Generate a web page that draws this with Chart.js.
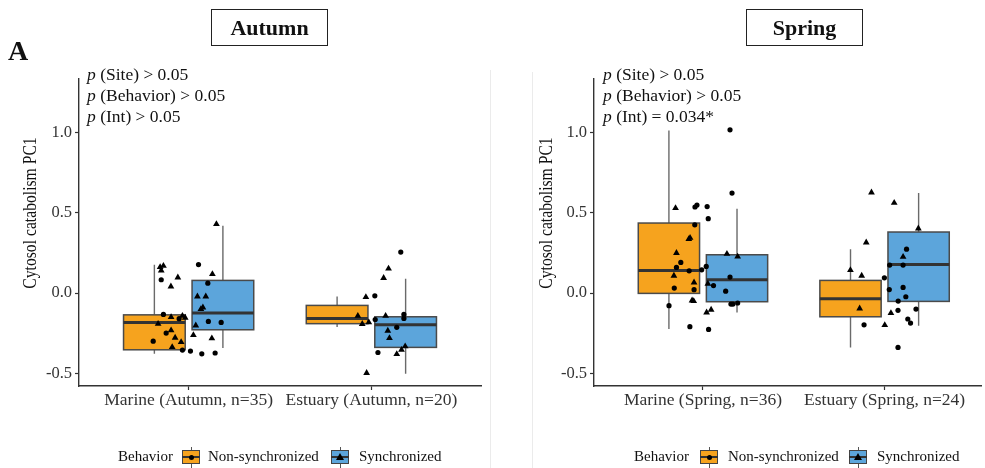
<!DOCTYPE html>
<html><head><meta charset="utf-8">
<script src="https://cdn.jsdelivr.net/npm/chart.js@4.4.0/dist/chart.umd.min.js"></script>
<style>
html,body{margin:0;padding:0;background:#fff;}
body{width:985px;height:468px;overflow:hidden;position:relative;font-family:"Liberation Serif","Times New Roman",serif;color:#111;}
canvas{position:absolute;top:0;}
.t{position:absolute;white-space:nowrap;line-height:1;}
.strip{position:absolute;top:9px;width:115px;height:35px;border:1.2px solid #222;display:flex;align-items:center;justify-content:center;font-weight:bold;font-size:22px;box-sizing:content-box;}
.ytitle{position:absolute;width:200px;height:18px;line-height:18px;font-size:18px;text-align:center;transform:rotate(-90deg) scaleX(0.87);color:#111;}
.sep{position:absolute;width:1px;background:#ebebeb;}
.key{position:absolute;width:18px;height:21px;}
.key .wh{position:absolute;left:8.5px;width:1px;top:0;height:21px;background:#555;}
.key .bx{position:absolute;left:0;top:3px;width:16px;height:12px;border:1px solid #444;}
.key .md{position:absolute;left:0;top:9px;width:18px;height:2px;background:#333;}
.key .dot{position:absolute;left:6.5px;top:7.5px;width:5px;height:5px;border-radius:50%;background:#000;}
.key .tri{position:absolute;left:5px;top:5.5px;width:0;height:0;border-left:4px solid transparent;border-right:4px solid transparent;border-bottom:7px solid #000;}
.leg{font-size:15px;}
</style>
</head>
<body>
<div class="sep" style="left:490px;top:70px;height:398px;"></div>
<div class="sep" style="left:532px;top:72px;height:396px;"></div>
<canvas id="cA" width="490" height="468" style="left:0;"></canvas>
<canvas id="cS" width="495" height="468" style="left:490px;"></canvas>

<div class="t" style="left:8px;top:37px;font-size:28px;font-weight:bold;">A</div>
<div class="strip" style="left:211px;">Autumn</div>
<div class="strip" style="left:746px;">Spring</div>

<div class="ytitle" style="left:-70px;top:204px;">Cytosol catabolism PC1</div>
<div class="ytitle" style="left:446px;top:204px;">Cytosol catabolism PC1</div>

<div id="pA"></div>
<div id="pS"></div>
<div id="legA"></div>
<div id="legS"></div>

<script>
// ---------- DATA ----------
const categoriesAutumn = ["Marine (Autumn, n=35)", "Estuary (Autumn, n=20)"];
const categoriesSpring = ["Marine (Spring, n=36)", "Estuary (Spring, n=24)"];
const behaviors = ["Non-synchronized", "Synchronized"];
const yTicks = [-0.5, 0.0, 0.5, 1.0];

const pTextAutumn = ["(Site) > 0.05", "(Behavior) > 0.05", "(Int) > 0.05"];
const pTextSpring = ["(Site) > 0.05", "(Behavior) > 0.05", "(Int) = 0.034*"];

// box stats per category: [lower whisker, Q1, median, Q3, upper whisker]
const autumnNonSyncBox = [[-0.379, -0.354, -0.183, -0.136, 0.177], [-0.212, -0.191, -0.158, -0.077, -0.021]];
const autumnSyncBox    = [[-0.343, -0.229, -0.125, 0.079, 0.420], [-0.503, -0.339, -0.198, -0.148, 0.089]];
const springNonSyncBox = [[-0.225, -0.002, 0.141, 0.437, 1.014], [-0.339, -0.148, -0.036, 0.079, 0.274]];
const springSyncBox    = [[-0.121, -0.054, 0.083, 0.239, 0.526], [-0.204, -0.052, 0.178, 0.381, 0.624]];

// jittered observations (x in category units, 1 = Marine, 2 = Estuary)
const autumnNonSyncX = [0.850,1.054,1.105,0.862,0.948,1.108,1.178,0.877,0.806,0.966,1.010,1.072,1.145, 2.161,2.019,2.178,2.178,2.021,2.139,2.036];
const autumnNonSyncY = [0.083,0.178,0.062,-0.133,-0.160,-0.177,-0.183,-0.250,-0.300,-0.356,-0.362,-0.379,-0.374, 0.256,-0.017,-0.133,-0.158,-0.165,-0.214,-0.371];
const autumnSyncX = [0.844,0.862,0.850,0.941,0.903,1.130,1.048,1.094,1.078,1.067,0.904,0.966,0.981,0.833,1.039,0.904,0.926,1.026,1.127,0.959,0.910,1.152, 2.094,2.067,1.970,1.926,2.078,1.950,1.986,2.090,2.099,2.185,2.165,2.139,1.974];
const autumnSyncY = [0.162,0.170,0.141,0.097,0.041,0.118,-0.021,-0.021,-0.090,-0.100,-0.150,-0.142,-0.154,-0.192,-0.202,-0.233,-0.279,-0.262,-0.283,-0.306,-0.337,0.430, 0.153,0.094,-0.025,-0.142,-0.142,-0.193,-0.183,-0.235,-0.281,-0.333,-0.354,-0.381,-0.499];
const springNonSyncX = [1.149,1.160,0.956,0.967,1.023,1.029,0.955,0.878,0.854,1.018,0.924,0.993,1.149,1.058,0.842,0.951,1.125,0.813,1.154,1.165,1.191,0.928,1.031, 2.121,2.028,2.102,1.999,2.026,2.102,2.117,2.075,2.173,2.074,2.128,2.143,1.887,2.074];
const springNonSyncY = [1.019,0.624,0.537,0.549,0.540,0.464,0.426,0.191,0.160,0.166,0.139,0.145,0.100,0.047,0.031,0.021,0.012,-0.079,-0.069,-0.069,-0.062,-0.210,-0.227, 0.274,0.175,0.175,0.095,0.022,0.035,-0.023,-0.050,-0.100,-0.108,-0.162,-0.187,-0.198,-0.339];
const springSyncX = [0.849,0.922,0.929,0.854,1.132,1.191,0.840,0.951,1.027,0.940,0.949,1.020,1.045, 1.928,2.053,2.186,1.899,1.812,2.102,1.874,1.863,2.035,2.001];
const springSyncY = [0.530,0.337,0.345,0.250,0.245,0.228,0.108,0.066,0.058,-0.046,-0.050,-0.121,-0.104, 0.628,0.563,0.403,0.316,0.143,0.226,0.108,-0.096,-0.125,-0.200];

// ---------- STYLE ----------
const ORANGE = "#F6A31E";
const BLUE = "#5CA5DB";
const FONT = "'Liberation Serif', 'Times New Roman', serif";

// boxplot plugin: draws through chart scales
const boxPlugin = {
  id: "boxes",
  beforeDatasetsDraw(chart, args, opts) {
    const ctx = chart.ctx, xs = chart.scales.x, ys = chart.scales.y;
    const w = opts.width;
    ctx.save();
    opts.groups.forEach(g => {
      g.stats.forEach((s, i) => {
        const xc = (i + 1) + g.offset;
        const xl = xs.getPixelForValue(xc - w / 2), xr = xs.getPixelForValue(xc + w / 2);
        const xm = xs.getPixelForValue(xc);
        const [lo, q1, med, q3, hi] = s.map(v => ys.getPixelForValue(v));
        ctx.strokeStyle = "#6a6a6a"; ctx.lineWidth = 1.4;
        ctx.beginPath(); ctx.moveTo(xm, lo); ctx.lineTo(xm, q1); ctx.moveTo(xm, q3); ctx.lineTo(xm, hi); ctx.stroke();
        ctx.fillStyle = g.fill;
        ctx.fillRect(xl, q3, xr - xl, q1 - q3);
        ctx.strokeStyle = "#4a4a4a"; ctx.lineWidth = 1.5;
        ctx.strokeRect(xl, q3, xr - xl, q1 - q3);
        ctx.strokeStyle = "#333"; ctx.lineWidth = 3;
        ctx.beginPath(); ctx.moveTo(xl, med); ctx.lineTo(xr, med); ctx.stroke();
      });
    });
    ctx.restore();
  }
};

function toPts(xs, ys) { return xs.map((x, i) => ({ x: x, y: ys[i] })); }

function makeChart(id, cats, nsBox, sBox, nsX, nsY, sX, sY, xMax, yWidth, padRight) {
  return new Chart(document.getElementById(id), {
    type: "scatter",
    data: {
      datasets: [
        { label: behaviors[0], data: toPts(nsX, nsY), pointStyle: "circle", pointRadius: 2.6, backgroundColor: "#000", borderWidth: 0 },
        { label: behaviors[1], data: toPts(sX, sY), pointStyle: "triangle", pointRadius: 3.9, backgroundColor: "#000", borderWidth: 0 }
      ]
    },
    options: {
      responsive: false, animation: false, events: [],
      layout: { padding: { top: 79, right: padRight, bottom: 0, left: 0 } },
      plugins: {
        legend: { display: false }, tooltip: { enabled: false },
        boxes: { width: 0.3375, groups: [
          { stats: nsBox, offset: -0.1875, fill: ORANGE },
          { stats: sBox, offset: 0.1875, fill: BLUE }
        ] }
      },
      scales: {
        x: {
          type: "linear", min: 0.4, max: xMax,
          afterBuildTicks: s => { s.ticks = [{ value: 1 }, { value: 2 }]; },
          afterFit: s => { s.height = 82; },
          ticks: { callback: v => cats[v - 1], autoSkip: false, maxRotation: 0, padding: 0,
                   font: { family: FONT, size: 17.5 }, color: "#333" },
          grid: { drawOnChartArea: false, drawTicks: true, tickLength: 4, tickColor: "#333", tickWidth: 1.2 },
          border: { display: true, color: "#333", width: 1.4 }
        },
        y: {
          type: "linear", min: -0.580, max: 1.336,
          afterBuildTicks: s => { s.ticks = yTicks.map(v => ({ value: v })); },
          afterFit: s => { s.width = yWidth; },
          ticks: { callback: v => v.toFixed(1), padding: 3, font: { family: FONT, size: 16.5 }, color: "#333" },
          grid: { drawOnChartArea: false, drawTicks: true, tickLength: 4, tickColor: "#333", tickWidth: 1.2 },
          border: { display: true, color: "#333", width: 1.4 }
        }
      }
    },
    plugins: [boxPlugin]
  });
}

makeChart("cA", categoriesAutumn, autumnNonSyncBox, autumnSyncBox, autumnNonSyncX, autumnNonSyncY, autumnSyncX, autumnSyncY, 2.6, 79, 9);
makeChart("cS", categoriesSpring, springNonSyncBox, springSyncBox, springNonSyncX, springNonSyncY, springSyncX, springSyncY, 2.531, 104, 0);

// p-value annotations
function pText(elId, left, lines) {
  const el = document.getElementById(elId);
  lines.forEach((txt, i) => {
    const d = document.createElement("div");
    d.className = "t";
    d.style.left = left + "px";
    d.style.top = (66 + i * 21) + "px";
    d.style.fontSize = "17.5px";
    d.innerHTML = "<i>p</i> " + txt.replace(/>/g, "&gt;");
    el.appendChild(d);
  });
}
pText("pA", 87, pTextAutumn);
pText("pS", 603, pTextSpring);

// legends
function legend(elId, pos) {
  const el = document.getElementById(elId);
  const top = 449;
  const add = (html) => { el.insertAdjacentHTML("beforeend", html); };
  add(`<div class="t leg" style="left:${pos[0]}px;top:${top}px;">Behavior</div>`);
  add(`<div class="key" style="left:${pos[1]}px;top:${top - 2}px;"><div class="wh"></div><div class="bx" style="background:${ORANGE}"></div><div class="md"></div><div class="dot"></div></div>`);
  add(`<div class="t leg" style="left:${pos[2]}px;top:${top}px;">${behaviors[0]}</div>`);
  add(`<div class="key" style="left:${pos[3]}px;top:${top - 2}px;"><div class="wh"></div><div class="bx" style="background:${BLUE}"></div><div class="md"></div><div class="tri"></div></div>`);
  add(`<div class="t leg" style="left:${pos[4]}px;top:${top}px;">${behaviors[1]}</div>`);
}
legend("legA", [118, 182, 208, 331, 359]);
legend("legS", [634, 700, 728, 849, 877]);
</script>
</body></html>
